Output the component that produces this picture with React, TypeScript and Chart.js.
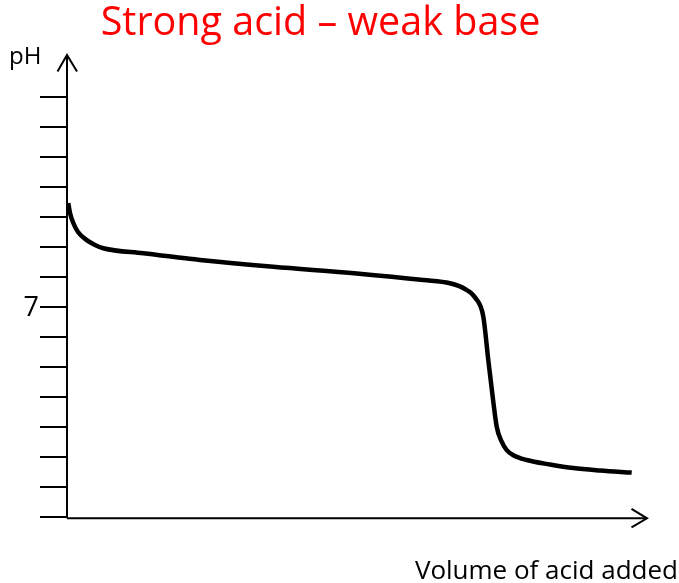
import React, { useEffect, useRef } from "react";
import { Chart, registerables } from "chart.js";

Chart.register(...registerables);

const titleText = "Strong acid – weak base";
const yAxisTitle = "pH";
const xAxisTitle = "Volume of acid added";

const volume = [0.13, 0.3, 0.63, 1.1, 1.97, 2.8, 3.63, 7.63, 13.3, 20.63, 28.97, 35.63, 38.3, 39.8, 40.85, 41.63, 42.13, 42.63, 42.97, 43.47, 43.97, 44.63, 45.97, 48.3, 50.63, 53.3, 56.47];
const pH = [10.47, 10.14, 9.81, 9.51, 9.24, 9.08, 8.97, 8.8, 8.58, 8.35, 8.13, 7.91, 7.8, 7.61, 7.31, 6.69, 5.24, 3.85, 3.02, 2.52, 2.24, 2.07, 1.91, 1.76, 1.64, 1.56, 1.49];

const yTickValues = [0, 1, 2, 3, 4, 5, 6, 7, 8, 9, 10, 11, 12, 13, 14];
const yLabelledTicks = [7];
const xMax = 58;
const yMax = 15.41;

const FONT = "'Open Sans', sans-serif";

const axesPlugin = {
  id: "handAxes",
  afterDraw(chart: any) {
    const ctx = chart.ctx;
    const xs = chart.scales.x;
    const ys = chart.scales.y;
    const x0 = xs.getPixelForValue(0);
    const x1 = xs.getPixelForValue(xMax);
    const y0 = ys.getPixelForValue(0);
    const y1 = ys.getPixelForValue(yMax);
    ctx.save();
    ctx.strokeStyle = "#000";
    ctx.lineWidth = 2;
    ctx.lineCap = "butt";
    // y axis
    ctx.beginPath();
    ctx.moveTo(x0, y0 + 1);
    ctx.lineTo(x0, y1);
    ctx.stroke();
    // y arrow
    ctx.beginPath();
    ctx.moveTo(x0 - 9.5, y1 + 16.5);
    ctx.lineTo(x0, y1);
    ctx.lineTo(x0 + 10, y1 + 16.5);
    ctx.stroke();
    // x axis
    ctx.beginPath();
    ctx.moveTo(x0, y0 + 1);
    ctx.lineTo(x1, y0 + 1);
    ctx.stroke();
    ctx.beginPath();
    ctx.moveTo(x1 - 15.5, y0 - 8.5);
    ctx.lineTo(x1, y0 + 1);
    ctx.lineTo(x1 - 15.5, y0 + 10);
    ctx.stroke();
    // y ticks
    for (const v of yTickValues) {
      const py = Math.round(ys.getPixelForValue(v));
      ctx.beginPath();
      ctx.moveTo(x0 - 27, py);
      ctx.lineTo(x0, py);
      ctx.stroke();
    }
    ctx.fillStyle = "#000";
    ctx.font = `27px ${FONT}`;
    ctx.textAlign = "right";
    ctx.textBaseline = "alphabetic";
    for (const v of yLabelledTicks) {
      const py = ys.getPixelForValue(v);
      ctx.fillText(String(v), x0 - 28, py + 9);
    }
    // axis titles
    ctx.textAlign = "left";
    ctx.font = `24px ${FONT}`;
    ctx.fillText(yAxisTitle, 9, 64);
    ctx.textAlign = "right";
    ctx.font = `26px ${FONT}`;
    ctx.fillText(xAxisTitle, 678, 579);
    // title
    ctx.fillStyle = "#ff0000";
    ctx.textAlign = "center";
    ctx.font = `39.5px ${FONT}`;
    ctx.fillText(titleText, 320.5, 35);
    ctx.restore();
  },
};

export default function App() {
  const ref = useRef<HTMLCanvasElement | null>(null);
  useEffect(() => {
    if (!ref.current) return;
    const chart = new Chart(ref.current, {
      type: "line",
      data: {
        datasets: [
          {
            data: volume.map((v, i) => ({ x: v, y: pH[i] })),
            borderColor: "#000",
            borderWidth: 4.5,
            pointRadius: 0,
            cubicInterpolationMode: "monotone",
            fill: false,
            clip: false as any,
          },
        ],
      },
      options: {
        responsive: false,
        animation: false,
        layout: { padding: { left: 67, right: 32, top: 55, bottom: 65.7 } },
        scales: {
          x: { type: "linear", min: 0, max: xMax, display: false },
          y: { type: "linear", min: 0, max: yMax, display: false },
        },
        plugins: { legend: { display: false }, tooltip: { enabled: false }, title: { display: false } },
      },
      plugins: [axesPlugin],
    });
    return () => chart.destroy();
  }, []);
  return (
    <div style={{ position: "absolute", left: 0, top: 0, width: 679, height: 583, background: "#fff" }}>
      <canvas ref={ref} width={679} height={583} style={{ display: "block" }} />
    </div>
  );
}
